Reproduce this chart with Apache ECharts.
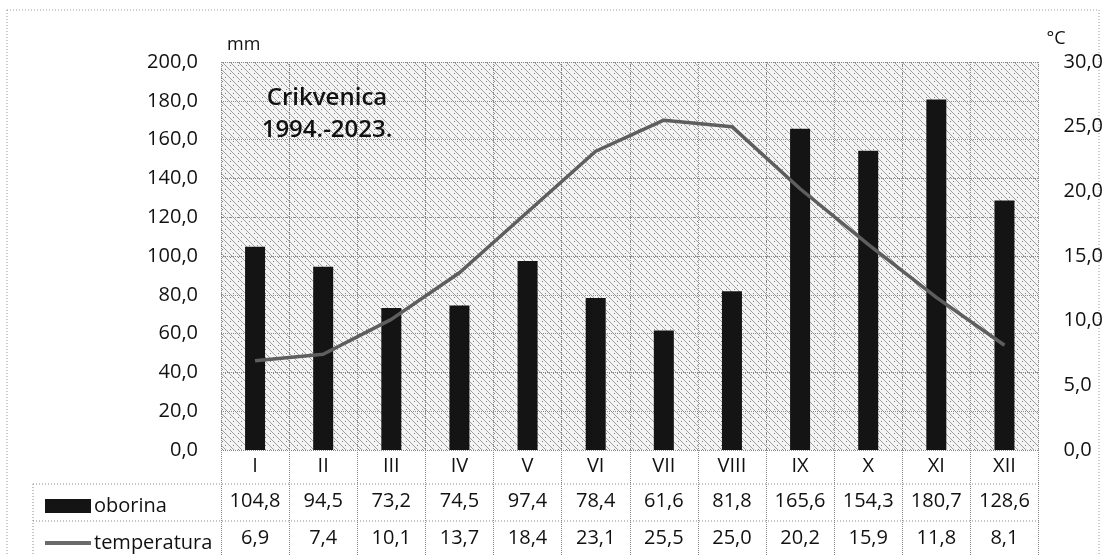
<!DOCTYPE html>
<html>
<head>
<meta charset="utf-8">
<script src="https://cdn.jsdelivr.net/npm/echarts@6/dist/echarts.min.js"></script>
<style>
  html, body { margin: 0; padding: 0; background: #fff; }
  #chart { width: 1106px; height: 556px; }
</style>
</head>
<body>
<div id="chart"></div>
<script>
// podaci: mjeseci, oborina (mm), temperatura (°C)
var months = ["I", "II", "III", "IV", "V", "VI", "VII", "VIII", "IX", "X", "XI", "XII"];
var oborina = [104.8, 94.5, 73.2, 74.5, 97.4, 78.4, 61.6, 81.8, 165.6, 154.3, 180.7, 128.6];
var temperatura = [6.9, 7.4, 10.1, 13.7, 18.4, 23.1, 25.5, 25.0, 20.2, 15.9, 11.8, 8.1];

function fmt(v) {
  return v.toFixed(1).replace(".", ",");
}

// šrafura pozadine
function hatch() {
  var c = document.createElement("canvas");
  c.width = 8;
  c.height = 8;
  var ctx = c.getContext("2d");
  ctx.fillStyle = "#f4f4f4";
  ctx.fillRect(0, 0, 8, 8);
  ctx.strokeStyle = "#a0a0a0";
  ctx.lineWidth = 1;
  ctx.beginPath();
  ctx.moveTo(-1, -1);
  ctx.lineTo(9, 9);
  ctx.stroke();
  ctx.fillStyle = "#808080";
  ctx.fillRect(6, 1, 1, 1);
  ctx.fillRect(1, 5, 1, 1);
  return c;
}

var font = "'Open Sans', 'DejaVu Sans', sans-serif";
var txt = "#111";

var myChart = echarts.init(document.getElementById("chart"));
var option = {
  animation: false,
  backgroundColor: "#fff",
  textStyle: { fontFamily: font },
  grid: {
    left: 221,
    right: 65,
    top: 62,
    bottom: 106,
    show: true,
    borderWidth: 0,
    backgroundColor: { image: hatch(), repeat: "repeat" }
  },
  legend: [
    {
      left: 40,
      top: 491,
      itemWidth: 46,
      itemHeight: 14,
      textStyle: { fontSize: 20, color: txt, fontFamily: font, padding: [0, 0, 0, -2] },
      data: [{ name: "oborina", icon: "rect" }]
    },
    {
      left: 40,
      top: 528,
      itemWidth: 46,
      itemHeight: 4,
      textStyle: { fontSize: 20, color: txt, fontFamily: font, padding: [0, 0, 0, -2] },
      data: [{ name: "temperatura", icon: "rect" }]
    }
  ],
  xAxis: [
    {
      type: "category",
      data: months,
      axisLine: { show: false },
      axisTick: {
        show: true,
        length: 110,
        lineStyle: { color: "#888", type: "dotted", width: 1 }
      },
      splitLine: { show: true, lineStyle: { color: "#888", type: "dotted" } },
      axisLabel: { fontSize: 20, color: txt, margin: 6 }
    },
    {
      type: "category",
      data: oborina.map(fmt),
      position: "bottom",
      offset: 35,
      axisLine: { show: false },
      axisTick: { show: false },
      axisLabel: { fontSize: 20, color: txt, margin: 6 }
    },
    {
      type: "category",
      data: temperatura.map(fmt),
      position: "bottom",
      offset: 72,
      axisLine: { show: false },
      axisTick: { show: false },
      axisLabel: { fontSize: 20, color: txt, margin: 6 }
    }
  ],
  yAxis: [
    {
      type: "value",
      min: 0,
      max: 200,
      interval: 20,
      name: "mm",
      nameGap: 8,
      nameTextStyle: { fontSize: 18, color: txt, align: "left", padding: [0, 0, 0, 6] },
      axisLine: { show: false },
      axisTick: { show: false },
      splitLine: { lineStyle: { color: "#888", type: "dotted" } },
      axisLabel: { fontSize: 20, color: txt, margin: 23, formatter: fmt }
    },
    {
      type: "value",
      min: 0,
      max: 30,
      interval: 5,
      name: "°C",
      nameGap: 14,
      nameTextStyle: { fontSize: 18, color: txt, align: "left", padding: [0, 0, 0, 8] },
      axisLine: { show: false },
      axisTick: { show: false },
      splitLine: { show: false },
      axisLabel: { fontSize: 20, color: txt, margin: 25, formatter: fmt }
    }
  ],
  series: [
    {
      name: "oborina",
      type: "bar",
      data: oborina,
      barWidth: 20,
      itemStyle: { color: "#141414" }
    },
    {
      name: "temperatura",
      type: "line",
      yAxisIndex: 1,
      data: temperatura,
      symbol: "none",
      lineStyle: { color: "#5e5e5e", width: 3.5 },
      itemStyle: { color: "#6a6a6a" }
    }
  ],
  graphic: [
    {
      type: "text",
      x: 327,
      y: 82,
      style: {
        text: "Crikvenica\n1994.-2023.",
        font: "600 24px " + font,
        fill: txt,
        lineHeight: 32,
        align: "center"
      },
      z: 10
    },
    {
      type: "rect",
      shape: { x: 7, y: 10, width: 1092, height: 560 },
      style: { fill: "none", stroke: "#999", lineWidth: 1, lineDash: [1, 2] },
      silent: true
    },
    {
      type: "line",
      shape: { x1: 33, y1: 484, x2: 1041, y2: 484 },
      style: { stroke: "#888", lineWidth: 1, lineDash: [1, 2] },
      silent: true
    },
    {
      type: "line",
      shape: { x1: 33, y1: 521, x2: 1041, y2: 521 },
      style: { stroke: "#888", lineWidth: 1, lineDash: [1, 2] },
      silent: true
    },
    {
      type: "line",
      shape: { x1: 33, y1: 484, x2: 33, y2: 556 },
      style: { stroke: "#888", lineWidth: 1, lineDash: [1, 2] },
      silent: true
    }
  ]
};
myChart.setOption(option);
</script>
</body>
</html>
